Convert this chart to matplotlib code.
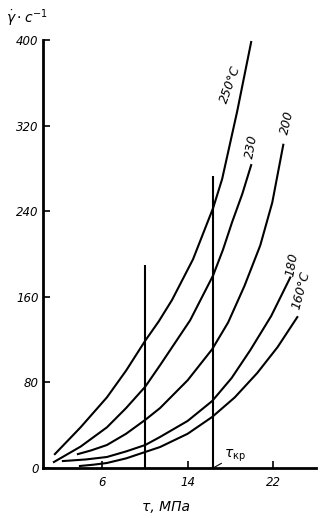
import matplotlib
matplotlib.use("Agg")
import matplotlib.pyplot as plt

# shear rate vs shear stress
x250 = [1.6, 4.0, 6.46, 8.25, 10.04, 11.3, 12.54, 14.5, 16.38, 17.22, 18.62, 19.93]
y250 = [13, 38, 66, 91, 119, 137, 157, 195, 243, 270, 333, 398]

x230 = [1.51, 4.0, 6.46, 8.25, 10.04, 11.42, 14.23, 16.38, 17.3, 18.16, 19.1, 19.93]
y230 = [5.6, 20, 38, 56, 76, 96, 138, 180, 204, 230, 256, 283]

x200 = [3.75, 5.0, 6.46, 8.25, 10.04, 11.42, 14.0, 16.29, 17.78, 19.3, 20.78, 21.9, 22.93]
y200 = [13, 16.5, 21.5, 32, 45, 56, 82, 111, 136, 170, 208, 248, 302]

x180 = [2.35, 4.5, 6.46, 8.25, 10.04, 11.42, 14.0, 16.29, 18.1, 19.84, 21.8, 23.58]
y180 = [6.5, 8, 10.3, 15.5, 21.5, 29, 44, 62.6, 84, 110, 142, 178]

x160 = [3.94, 5.2, 6.46, 8.25, 10.04, 11.42, 14.0, 16.29, 18.4, 20.5, 22.4, 24.24]
y160 = [1.9, 3.1, 4.7, 9, 15, 19.6, 32, 47.7, 66, 88.8, 113, 141]

curve_labels = ["250°C", "230", "200", "180", "160°C"]

vline_x = [10.04, 16.38]
vline_top = [190, 273]
tau_kr = 16.38

xticks = [6, 14, 22]
yticks = [0, 80, 160, 240, 320, 400]

fig = plt.figure(figsize=(3.2, 5.18), dpi=100)
ax = fig.add_axes([0.134, 0.0965, 0.854, 0.8265])

for xs, ys in [(x250, y250), (x230, y230), (x200, y200), (x180, y180), (x160, y160)]:
    ax.plot(xs, ys, color="black", lw=1.5)

ax.vlines(vline_x, 0, vline_top, color="black", lw=1.5)

ax.set_xlim(0.48, 26)
ax.set_ylim(0, 400)
ax.spines["top"].set_visible(False)
ax.spines["right"].set_visible(False)
ax.spines["left"].set_linewidth(2)
ax.spines["bottom"].set_linewidth(2)
ax.set_xticks(xticks)
ax.set_yticks(yticks)
ax.tick_params(direction="in", length=5, width=1.2, labelsize=8.5)
ax.tick_params(axis="x", pad=6)
ax.tick_params(axis="y", pad=3)
for lab in ax.get_xticklabels() + ax.get_yticklabels():
    lab.set_fontstyle("italic")

# curve labels (rotated along the curves)
label_pos = [(18.0, 358, 70), (20.0, 300, 80), (23.3, 323, 77), (23.7, 190, 80), (24.6, 166, 75)]
for txt, (lx, ly, rot) in zip(curve_labels, label_pos):
    ax.text(lx, ly, txt, rotation=rot, fontsize=9, ha="center", va="center",
            fontstyle="italic")

ax.annotate(r"$\tau_{\mathrm{кр}}$", xy=(tau_kr, 0), xytext=(8, 9),
            textcoords="offset points", fontsize=10, va="center",
            arrowprops=dict(arrowstyle="-", lw=0.8, color="black", shrinkA=0, shrinkB=0))

fig.text(0.02, 0.965, r"$\dot{\gamma}\cdot c^{-1}$", fontsize=10, va="center")
fig.text(0.52, 0.022, "τ, МПа", fontsize=10, fontstyle="italic", ha="center", va="center")

fig.savefig("out.png", dpi=100)
